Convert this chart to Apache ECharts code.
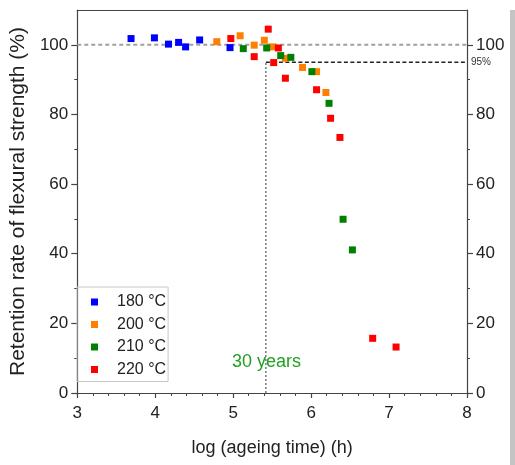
<!DOCTYPE html>
<html>
<head>
<meta charset="utf-8">
<script src="https://cdn.jsdelivr.net/npm/echarts@6/dist/echarts.min.js"></script>
<style>
html,body{margin:0;padding:0;background:#fff;}
#c{width:515px;height:465px;}
</style>
</head>
<body>
<div id="c"></div>
<script>
// ---- data ----
var names = ['180 °C', '200 °C', '210 °C', '220 °C'];
var colors = ['#0000ff', '#ff8000', '#008000', '#ff0000'];

var x180 = [3.69, 3.99, 4.17, 4.30, 4.39, 4.57, 4.96];
var y180 = [101.8, 102.0, 100.2, 100.7, 99.4, 101.4, 99.2];

var x200 = [4.79, 5.09, 5.27, 5.40, 5.50, 5.67, 5.89, 6.07, 6.19];
var y200 = [100.9, 102.6, 99.9, 101.3, 99.4, 96.1, 93.5, 92.3, 86.3];

var x210 = [5.13, 5.43, 5.61, 5.74, 6.01, 6.23, 6.41, 6.53];
var y210 = [98.9, 99.1, 96.9, 96.4, 92.3, 83.2, 49.9, 41.1];

var x220 = [4.97, 5.27, 5.45, 5.52, 5.58, 5.67, 6.07, 6.25, 6.37, 6.79, 7.09];
var y220 = [101.8, 96.6, 104.5, 94.9, 99.1, 90.4, 87.1, 78.9, 73.4, 15.7, 13.2];

var xTicks = [3, 4, 5, 6, 7, 8];
var yTicks = [0, 20, 40, 60, 80, 100];
var refFull = 100;      // 100 % reference
var ref95 = 95;         // 95 % threshold
var log30years = 5.42;  // log10(30 years in hours)

function pairs(xs, ys) { return xs.map(function (x, i) { return [x, ys[i]]; }); }

var font = '"Liberation Sans", Arial, sans-serif';
var axisCol = '#444';
var txtCol = '#222';

var chart = echarts.init(document.getElementById('c'), null, {renderer: 'canvas'});

function yAx(pos) {
  return {
    type: 'value', position: pos, min: 0, max: 110, interval: 20,
    axisLine: {show: true, lineStyle: {color: axisCol, width: 1.2}},
    axisTick: {show: true, inside: false, length: 6, lineStyle: {color: axisCol, width: 1.2},
      customValues: yTicks},
    minorTick: {show: true, splitNumber: 2, length: 3, lineStyle: {color: axisCol}},
    axisLabel: {show: true, margin: 9, fontSize: 17, fontFamily: font, color: txtCol,
      customValues: yTicks},
    splitLine: {show: false}
  };
}

var scatterSeries = [pairs(x180, y180), pairs(x200, y200), pairs(x210, y210), pairs(x220, y220)]
  .map(function (d, i) {
    return {
      name: names[i], type: 'scatter', data: d, symbol: 'rect', symbolSize: 7,
      itemStyle: {color: colors[i], opacity: 1}, z: 5 + i
    };
  });

var option = {
  animation: false,
  backgroundColor: '#fff',
  grid: {left: 73, right: 48, top: 10, bottom: 72, containLabel: false},
  xAxis: [{
    type: 'value', min: 3, max: 8, interval: 1, position: 'bottom',
    name: 'log (ageing time) (h)', nameLocation: 'middle', nameGap: 46,
    nameTextStyle: {fontSize: 18, fontFamily: font, color: txtCol},
    axisLine: {show: true, onZero: false, lineStyle: {color: axisCol, width: 1.2}},
    axisTick: {show: true, length: 5, lineStyle: {color: axisCol, width: 1.2}, customValues: xTicks},
    minorTick: {show: true, splitNumber: 5, length: 3, lineStyle: {color: axisCol}},
    axisLabel: {margin: 12, fontSize: 17, fontFamily: font, color: txtCol, customValues: xTicks},
    splitLine: {show: false}
  }, {
    type: 'value', min: 3, max: 8, position: 'top',
    axisLine: {show: true, onZero: false, lineStyle: {color: axisCol, width: 1.2}},
    axisTick: {show: false}, axisLabel: {show: false}, splitLine: {show: false}
  }],
  yAxis: [
    Object.assign(yAx('left'), {
      name: 'Retention rate of flexural strength (%)', nameLocation: 'middle', nameGap: 44,
      nameRotate: 90,
      nameTextStyle: {fontSize: 21, fontFamily: font, color: txtCol}
    }),
    yAx('right')
  ],
  legend: {
    data: names, orient: 'vertical', left: 77, top: 287,
    padding: [7, 2, 4, 14], itemGap: 6.5, itemWidth: 7, itemHeight: 7, icon: 'rect',
    borderColor: '#c8c8c8', borderWidth: 1,
    textStyle: {fontSize: 16, fontFamily: font, color: txtCol, padding: [0, 0, 0, 14]}
  },
  series: [
    {type: 'line', data: [[3, refFull], [8, refFull]], symbol: 'none', silent: true,
      lineStyle: {color: '#a0a0a0', width: 2, type: [4, 3]}, z: 2},
    {type: 'line', data: [[log30years, ref95], [8, ref95]], symbol: 'none', silent: true,
      lineStyle: {color: '#222', width: 1.6, type: [4, 2.5]}, z: 2},
    {type: 'line', data: [[log30years, 0], [log30years, ref95]], symbol: 'none', silent: true,
      lineStyle: {color: '#333', width: 1, type: [2, 2]}, z: 2}
  ].concat(scatterSeries),
  graphic: [
    {type: 'text', left: 232, top: 353, z: 20,
      style: {text: '30 years', fontSize: 18, fontFamily: font, fill: '#22a022'}},
    {type: 'text', left: 471, top: 57, z: 20,
      style: {text: '95%', fontSize: 10, fontFamily: font, fill: '#333'}},
    {type: 'rect', shape: {x: 510, y: 10, width: 5, height: 455}, z: 20,
      style: {fill: '#c4c4c4'}}
  ]
};
chart.setOption(option);
</script>
</body>
</html>
